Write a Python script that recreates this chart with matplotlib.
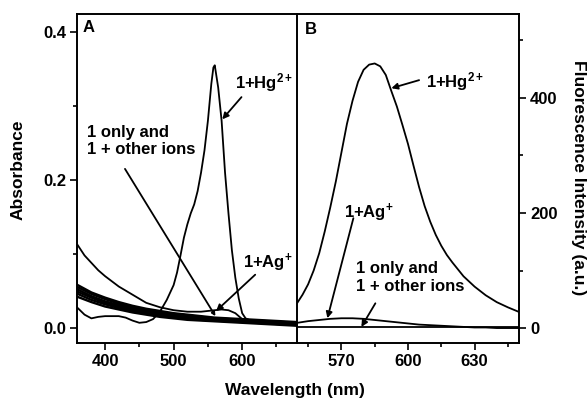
import matplotlib
matplotlib.use("Agg")
import matplotlib.pyplot as plt
from matplotlib.ticker import MultipleLocator

plt.rcParams['font.family'] = ['Liberation Sans', 'DejaVu Sans']
plt.rcParams['font.weight'] = 'bold'
plt.rcParams['font.size'] = 12
plt.rcParams['mathtext.fontset'] = 'custom'
plt.rcParams['mathtext.rm'] = 'Liberation Sans:bold'
plt.rcParams['mathtext.bf'] = 'Liberation Sans:bold'
plt.rcParams['mathtext.it'] = 'Liberation Sans:bold'
plt.rcParams['mathtext.default'] = 'rm'

# ---------------- Panel A: absorbance ----------------
wl_hg = [360, 370, 380, 390, 400, 410, 420, 430, 440, 450, 460, 470, 480, 490,
         500, 505, 510, 515, 520, 525, 530, 535, 540, 545, 550, 555, 558, 560,
         565, 570, 575, 580, 585, 590, 595, 600, 605, 610, 620, 640, 660, 680]
abs_hg = [0.027, 0.018, 0.013, 0.015, 0.016, 0.016, 0.016, 0.014, 0.010, 0.007,
          0.008, 0.012, 0.022, 0.038, 0.058, 0.075, 0.098, 0.122, 0.140, 0.155,
          0.167, 0.185, 0.210, 0.240, 0.280, 0.330, 0.352, 0.355, 0.325, 0.280,
          0.210, 0.155, 0.105, 0.068, 0.040, 0.020, 0.013, 0.011, 0.010, 0.008,
          0.006, 0.005]

wl_ag = [360, 370, 380, 390, 400, 420, 440, 460, 480, 500, 520, 540, 560, 570,
         580, 590, 600, 620, 640, 660, 680]
abs_ag = [0.112, 0.098, 0.088, 0.078, 0.070, 0.056, 0.045, 0.034, 0.028, 0.024,
          0.022, 0.022, 0.024, 0.025, 0.024, 0.020, 0.012, 0.009, 0.007, 0.006,
          0.005]

wl_others = [360, 380, 400, 420, 440, 460, 480, 500, 520, 540, 560, 580, 600,
             620, 640, 660, 680]
abs_other1 = [0.058, 0.048, 0.041, 0.035, 0.030, 0.026, 0.023, 0.020, 0.018,
              0.016, 0.014, 0.013, 0.012, 0.011, 0.010, 0.009, 0.008]
abs_other2 = [0.055, 0.046, 0.039, 0.033, 0.028, 0.024, 0.021, 0.019, 0.017,
              0.015, 0.013, 0.012, 0.011, 0.010, 0.009, 0.008, 0.007]
abs_other3 = [0.052, 0.043, 0.036, 0.031, 0.027, 0.023, 0.020, 0.018, 0.016,
              0.014, 0.012, 0.011, 0.010, 0.009, 0.008, 0.007, 0.006]
abs_other4 = [0.049, 0.041, 0.034, 0.029, 0.025, 0.021, 0.018, 0.016, 0.014,
              0.012, 0.011, 0.010, 0.009, 0.008, 0.007, 0.006, 0.005]
abs_other5 = [0.046, 0.038, 0.032, 0.027, 0.023, 0.020, 0.017, 0.015, 0.013,
              0.011, 0.010, 0.009, 0.008, 0.007, 0.006, 0.005, 0.004]
abs_only = [0.042, 0.035, 0.029, 0.025, 0.021, 0.018, 0.015, 0.013, 0.011,
            0.010, 0.009, 0.008, 0.007, 0.006, 0.005, 0.004, 0.003]

# ---------------- Panel B: fluorescence ----------------
wl_fl_hg = [550, 552.5, 555, 557.5, 560, 562.5, 565, 567.5, 570, 572.5, 575,
            577.5, 580, 582.5, 585, 587.5, 590, 592.5, 595, 597.5, 600, 602.5,
            605, 607.5, 610, 612.5, 615, 617.5, 620, 622.5, 625, 630, 635, 640,
            645, 650]
fl_hg = [43, 58, 76, 100, 130, 168, 210, 255, 305, 355, 395, 428, 449, 458,
         460, 455, 440, 412, 385, 353, 320, 282, 245, 212, 185, 162, 143, 127,
         114, 102, 90, 72, 57, 45, 36, 28]

wl_fl = [550, 555, 560, 565, 570, 575, 580, 585, 590, 595, 600, 605, 610, 615,
         620, 625, 630, 635, 640, 645, 650]
fl_ag = [9, 12, 14, 16, 17, 17, 16, 14, 12, 10, 8, 6, 5, 4, 3, 2, 1, 1, 0, 0, 0]
fl_only = [1, 1, 1, 1, 1, 1, 1, 1, 1, 1, 1, 1, 1, 1, 1, 1, 1, 1, 1, 1, 1]

xticks_a = [400, 500, 600]
yticks_a = [0.0, 0.2, 0.4]
xticks_b = [570, 600, 630]
yticks_b = [0, 200, 400]

W, H = 587, 398
fig = plt.figure(figsize=(W / 100, H / 100), dpi=100)
axA = fig.add_axes([77 / W, (H - 343) / H, 220 / W, 329 / H])
axB = fig.add_axes([297 / W, (H - 343) / H, 222 / W, 329 / H])

lw = 1.3
axA.plot(wl_hg, abs_hg, color='k', lw=lw)
axA.plot(wl_ag, abs_ag, color='k', lw=lw)
for ys in (abs_other1, abs_other2, abs_other3, abs_other4, abs_other5, abs_only):
    axA.plot(wl_others, ys, color='k', lw=1.7)

axA.set_xlim(359, 680)
axA.set_ylim(-0.0203, 0.4243)
axA.set_xticks(xticks_a)
axA.set_yticks(yticks_a)
axA.set_yticklabels(['0.0', '0.2', '0.4'])
axA.xaxis.set_minor_locator(MultipleLocator(50))
axA.yaxis.set_minor_locator(MultipleLocator(0.1))
axA.set_ylabel('Absorbance', fontsize=12.5, fontweight='bold')
axA.yaxis.set_label_coords(-0.236, 0.526)
axA.spines['right'].set_visible(False)

axB.plot(wl_fl_hg, fl_hg, color='k', lw=lw)
axB.plot(wl_fl, fl_ag, color='k', lw=lw)
axB.plot(wl_fl, fl_only, color='k', lw=lw)
axB.set_xlim(550, 650)
axB.set_ylim(-26, 546)
axB.set_xticks(xticks_b)
axB.set_yticks(yticks_b)
axB.set_xticks([555, 585, 615, 645], minor=True)
axB.yaxis.set_minor_locator(MultipleLocator(100))
axB.yaxis.tick_right()
axB.yaxis.set_label_position('right')
axB.set_ylabel('Fluorescence Intensity (a.u.)', fontsize=12.5,
               fontweight='bold', rotation=270, va='center')
axB.yaxis.set_label_coords(1.266, 0.503)

for ax in (axA, axB):
    for s in ax.spines.values():
        s.set_linewidth(1.4)
    ax.tick_params(which='major', direction='out', length=5, width=1.2,
                   labelsize=12, pad=3)
    ax.tick_params(which='minor', direction='out', length=3, width=1.2)
    ax.tick_params(axis='x', which='both', top=False)
    for lab in ax.get_xticklabels() + ax.get_yticklabels():
        lab.set_fontweight('bold')
axB.tick_params(axis='y', which='both', left=False, right=True)
axA.tick_params(axis='y', which='both', right=False)

fig.text(295 / W, 1 - 390 / H, 'Wavelength (nm)', ha='center', va='center',
         fontsize=12.5, fontweight='bold')

axA.text(0.027, 0.982, 'A', transform=axA.transAxes, ha='left', va='top',
         fontsize=12, fontweight='bold')
axB.text(0.036, 0.975, 'B', transform=axB.transAxes, ha='left', va='top',
         fontsize=12, fontweight='bold')

ap = dict(arrowstyle='-|>', color='k', lw=1.3, mutation_scale=9,
          shrinkA=0, shrinkB=0)

# Panel A annotations
axA.text(590, 0.331, r'1+Hg$^{2+}$', ha='left', va='center',
         fontsize=12, fontweight='bold')
axA.annotate('', xy=(571, 0.282), xytext=(599, 0.312), arrowprops=ap)
axA.text(374, 0.253, '1 only and\n1 + other ions', ha='left', va='center',
         fontsize=12, fontweight='bold', linespacing=1.2)
axA.annotate('', xy=(561, 0.016), xytext=(429, 0.215),
             arrowprops=dict(ap, mutation_scale=5))
axA.text(601, 0.088, r'1+Ag$^{+}$', ha='left', va='center',
         fontsize=12, fontweight='bold')
axA.annotate('', xy=(562, 0.023), xytext=(619, 0.072), arrowprops=ap)

# Panel B annotations
axB.text(608, 428, r'1+Hg$^{2+}$', ha='left', va='center',
         fontsize=12, fontweight='bold')
axB.annotate('', xy=(592.5, 417), xytext=(605, 431), arrowprops=ap)
axB.text(571, 200, r'1+Ag$^{+}$', ha='left', va='center',
         fontsize=12, fontweight='bold')
axB.annotate('', xy=(563.7, 17), xytext=(575.4, 191), arrowprops=ap)
axB.text(576.8, 88, '1 only and\n1 + other ions', ha='left', va='center',
         fontsize=12, fontweight='bold', linespacing=1.2)
axB.annotate('', xy=(579, 2), xytext=(585.3, 43), arrowprops=ap)

fig.savefig('out.png', dpi=100)
